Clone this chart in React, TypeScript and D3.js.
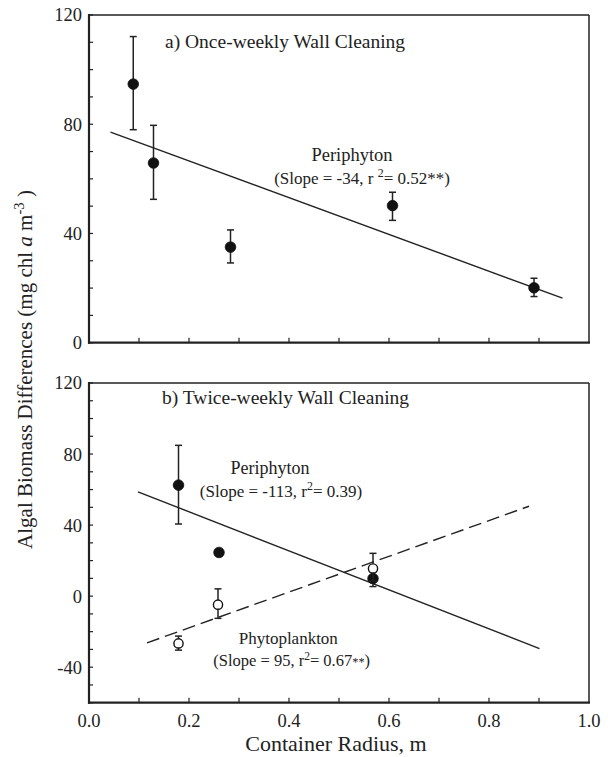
import React from "react";
import * as d3 from "d3";

// container radius (m) and biomass differences (mg chl a m-3)
const onceRadius = [0.0885, 0.129, 0.283, 0.607, 0.89];
const onceMean = [94.7, 65.8, 35.0, 50.2, 20.1];
const onceUpper = [112.1, 79.6, 41.3, 55.1, 23.6];
const onceLower = [78.0, 52.5, 29.2, 44.8, 16.9];
const onceFitX = [0.043, 0.947];
const onceFitY = [77.1, 16.3];

const twicePeriRadius = [0.179, 0.26, 0.568];
const twicePeriMean = [62.5, 24.6, 9.9];
const twicePeriUpper = [84.9, null, 13.5];
const twicePeriLower = [40.6, null, 5.4];
const twicePeriFitX = [0.098, 0.901];
const twicePeriFitY = [58.7, -29.5];

const twicePhytoRadius = [0.179, 0.258, 0.568];
const twicePhytoMean = [-26.6, -4.8, 15.6];
const twicePhytoUpper = [-22.5, 4.1, 24.1];
const twicePhytoLower = [-30.4, -12.5, 8.5];
const twicePhytoFitX = [0.116, 0.88];
const twicePhytoFitY = [-26.3, 50.6];

const xTickValues = [0, 0.2, 0.4, 0.6, 0.8, 1.0];
const xTickLabels = ["0.0", "0.2", "0.4", "0.6", "0.8", "1.0"];
const onceYTicks = [0, 40, 80, 120];
const twiceYTicks = [-40, 0, 40, 80, 120];

const FONT = '"Liberation Serif", "DejaVu Serif", serif';
const txt = { fontFamily: FONT, fill: "#222" } as React.CSSProperties;

const x = d3.scaleLinear().domain([0, 1]).range([89, 589]);
const yTop = d3.scaleLinear().domain([0, 120]).range([342.7, 15]);
const yBot = d3.scaleLinear().domain([-60, 120]).range([702.7, 383]);

type Pt = { r: number; m: number; hi: number | null; lo: number | null };

function zip(r: number[], m: number[], hi: (number | null)[], lo: (number | null)[]): Pt[] {
  return r.map((v, i) => ({ r: v, m: m[i], hi: hi[i], lo: lo[i] }));
}

function Frame({ y, min, max, labels }: { y: d3.ScaleLinear<number, number>; min: number; max: number; labels: number[] }) {
  const [x0, x1] = x.range();
  const yb = y(min), yt = y(max);
  const minorY = d3.range(min, max + 0.001, 10);
  const minorX = d3.range(0.1, 1.0, 0.1);
  return (
    <g>
      <line x1={x0} x2={x1} y1={yt} y2={yt} stroke="#222" strokeWidth={1.5} />
      <line x1={x1} x2={x1} y1={yt} y2={yb} stroke="#222" strokeWidth={1.5} />
      <line x1={x0} x2={x0} y1={yt - 1} y2={yb + 1} stroke="#222" strokeWidth={2.2} />
      <line x1={x0 - 1} x2={x1 + 1} y1={yb} y2={yb} stroke="#222" strokeWidth={2.2} />
      {minorY.map((v) => (
        <line key={"y" + v} x1={x0} x2={x0 + 4} y1={y(v)} y2={y(v)} stroke="#222" strokeWidth={1.2} />
      ))}
      {minorX.map((v) => (
        <line key={"x" + v} x1={x(v)} x2={x(v)} y1={yb} y2={yb - 5} stroke="#222" strokeWidth={1.2} />
      ))}
      {labels.map((v) => (
        <text key={"l" + v} x={x0 - 7} y={y(v)} dy="0.35em" textAnchor="end" fontSize={18.5} style={txt}>
          {v}
        </text>
      ))}
    </g>
  );
}

function Points({ data, y, open }: { data: Pt[]; y: d3.ScaleLinear<number, number>; open: boolean }) {
  return (
    <g>
      {data.map((d, i) => (
        <g key={i}>
          {d.hi !== null && (
            <g stroke="#222" strokeWidth={1.5}>
              <line x1={x(d.r)} x2={x(d.r)} y1={y(d.hi)} y2={y(d.lo as number)} />
              <line x1={x(d.r) - 3.5} x2={x(d.r) + 3.5} y1={y(d.hi)} y2={y(d.hi)} />
              <line x1={x(d.r) - 3.5} x2={x(d.r) + 3.5} y1={y(d.lo as number)} y2={y(d.lo as number)} />
            </g>
          )}
          <circle
            cx={x(d.r)}
            cy={y(d.m)}
            r={open ? 4.6 : 5.3}
            fill={open ? "#fff" : "#111"}
            stroke="#111"
            strokeWidth={open ? 1.4 : 0.8}
          />
        </g>
      ))}
    </g>
  );
}

function Fit({ xs, ys, y, dash }: { xs: number[]; ys: number[]; y: d3.ScaleLinear<number, number>; dash?: string }) {
  const line = d3
    .line<number>()
    .x((v) => x(v))
    .y((_, i) => y(ys[i]));
  return <path d={line(xs) || ""} fill="none" stroke="#222" strokeWidth={1.4} strokeDasharray={dash} />;
}

export default function App() {
  const once = zip(onceRadius, onceMean, onceUpper, onceLower);
  const peri = zip(twicePeriRadius, twicePeriMean, twicePeriUpper, twicePeriLower);
  const phyto = zip(twicePhytoRadius, twicePhytoMean, twicePhytoUpper, twicePhytoLower);
  const sup = { baselineShift: "super", fontSize: "70%" } as React.CSSProperties;

  return (
    <svg
      width={608}
      height={757}
      style={{ position: "absolute", left: 0, top: 0, background: "#fff", fontFamily: FONT }}
    >
      <rect width={608} height={757} fill="#fff" />

      {/* panel a */}
      <Frame y={yTop} min={0} max={120} labels={onceYTicks} />
      <Fit xs={onceFitX} ys={onceFitY} y={yTop} />
      <Points data={once} y={yTop} open={false} />
      <text x={165} y={47.6} fontSize={19.5} style={txt}>a) Once-weekly Wall Cleaning</text>
      <text x={352} y={161} fontSize={18.5} textAnchor="middle" style={txt}>Periphyton</text>
      <text x={362} y={184} fontSize={17} textAnchor="middle" style={txt}>
        (Slope = -34, r <tspan style={sup}>2</tspan>= 0.52**)
      </text>

      {/* panel b */}
      <Frame y={yBot} min={-60} max={120} labels={twiceYTicks} />
      <Fit xs={twicePeriFitX} ys={twicePeriFitY} y={yBot} />
      <Fit xs={twicePhytoFitX} ys={twicePhytoFitY} y={yBot} dash="13,6" />
      <Points data={peri} y={yBot} open={false} />
      <Points data={phyto} y={yBot} open={true} />
      <text x={162} y={404} fontSize={19.5} style={txt}>b) Twice-weekly Wall Cleaning</text>
      <text x={270} y={474} fontSize={18} textAnchor="middle" style={txt}>Periphyton</text>
      <text x={281} y={496.5} fontSize={17} textAnchor="middle" style={txt}>
        (Slope = -113, r<tspan style={sup}>2</tspan>= 0.39)
      </text>
      <text x={288.3} y={643.5} fontSize={17} textAnchor="middle" style={txt}>Phytoplankton</text>
      <text x={291.7} y={665.5} fontSize={16.5} textAnchor="middle" style={txt}>
        (Slope = 95, r<tspan style={sup}>2</tspan>= 0.67<tspan fontSize="75%">**</tspan>)
      </text>

      {/* x axis labels */}
      {xTickValues.map((v, i) => (
        <text key={v} x={x(v)} y={727} textAnchor="middle" fontSize={18.5} style={txt}>
          {xTickLabels[i]}
        </text>
      ))}
      <text x={336} y={751} textAnchor="middle" fontSize={22} style={txt}>Container Radius, m</text>

      {/* y axis title */}
      <text transform="translate(32,369.5) rotate(-90)" textAnchor="middle" fontSize={21} style={txt}>
        Algal Biomass Differences (mg chl <tspan fontStyle="italic">a</tspan> m<tspan style={sup}>-3</tspan> )
      </text>
    </svg>
  );
}
